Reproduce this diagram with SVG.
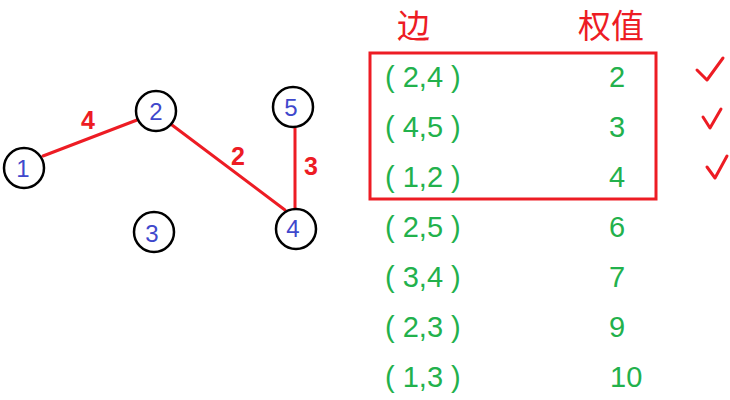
<svg xmlns="http://www.w3.org/2000/svg" width="730" height="400" viewBox="0 0 730 400">
<style>
.node{fill:none;stroke:#000;stroke-width:2.5}
.nl{font-family:"Liberation Sans",Arial,sans-serif;font-size:24px;fill:#3F48CC;text-anchor:middle}
.edge{stroke:#ED1C24;stroke-width:3;fill:none;stroke-linecap:round}
.el{font-family:"Liberation Sans",Arial,sans-serif;font-size:25px;font-weight:bold;fill:#ED1C24;text-anchor:middle}
.hd{font-family:"Noto Sans CJK SC","Noto Sans",sans-serif;font-size:33px;fill:#ED1C24}
.row{font-family:"Liberation Sans",Arial,sans-serif;font-size:29px;fill:#22B14C}
.chk{stroke:#ED1C24;stroke-width:3;fill:none;stroke-linecap:round;stroke-linejoin:round}
</style>
<rect width="730" height="400" fill="#fff"/>
<g id="connectors">
<line class="edge" x1="43" y1="156" x2="137" y2="120"/>
<line class="edge" x1="172" y1="125" x2="285" y2="210"/>
<line class="edge" x1="295" y1="128" x2="295" y2="208"/>
<text class="el" x="88" y="129">4</text>
<text class="el" x="238" y="165">2</text>
<text class="el" x="311" y="175">3</text>
</g>
<g id="node1"><circle class="node" cx="24" cy="168" r="20"/><text class="nl" x="23" y="177">1</text></g>
<g id="node2"><circle class="node" cx="156" cy="111" r="20"/><text class="nl" x="156" y="120">2</text></g>
<g id="node3"><circle class="node" cx="154" cy="232" r="20"/><text class="nl" x="152" y="242">3</text></g>
<g id="node4"><circle class="node" cx="296" cy="229" r="20"/><text class="nl" x="293" y="237">4</text></g>
<g id="node5"><circle class="node" cx="293" cy="107" r="20"/><text class="nl" x="291" y="116">5</text></g>
<g id="table">
<text class="hd" x="397" y="38">边</text>
<text class="hd" x="578" y="38">权值</text>
<rect x="370" y="53" width="286" height="146" fill="none" stroke="#ED1C24" stroke-width="3"/>
<text class="row" x="385" y="87">( 2,4 )</text><text class="row" x="609" y="87">2</text>
<text class="row" x="385" y="137">( 4,5 )</text><text class="row" x="609" y="137">3</text>
<text class="row" x="385" y="187">( 1,2 )</text><text class="row" x="609" y="187">4</text>
<text class="row" x="385" y="237">( 2,5 )</text><text class="row" x="609" y="237">6</text>
<text class="row" x="385" y="287">( 3,4 )</text><text class="row" x="609" y="287">7</text>
<text class="row" x="385" y="337">( 2,3 )</text><text class="row" x="609" y="337">9</text>
<text class="row" x="385" y="387">( 1,3 )</text><text class="row" x="610" y="387">10</text>
<path class="chk" d="M697 70 L707 80 L723 58"/>
<path class="chk" d="M703 117 L710 128 L721 109"/>
<path class="chk" d="M707 167 L715 178 L727 156"/>
</g>
</svg>
